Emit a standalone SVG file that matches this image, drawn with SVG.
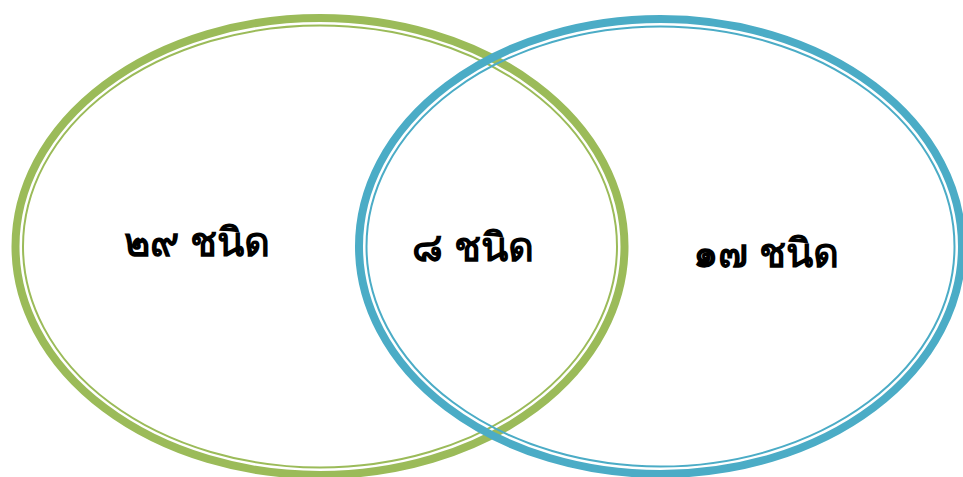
<svg xmlns="http://www.w3.org/2000/svg" width="963" height="477" viewBox="0 0 963 477">
<style>
.g{stroke:#9BBB59;fill:none}
.b{stroke:#4BACC6;fill:none}
.thick{stroke-width:8}
.thin{stroke-width:2}
.t{font-family:"Noto Sans","DejaVu Sans",sans-serif;font-weight:bold;font-size:40px;fill:#000;text-anchor:middle}
</style>
<rect width="963" height="477" fill="#fff"/>
<g id="green">
<ellipse class="g thick" cx="320" cy="246.5" rx="304.5" ry="228.5"/>
<ellipse class="g thin" cx="320" cy="246.5" rx="297" ry="221"/>
</g>
<g id="blue">
<ellipse class="b thick" cx="660.5" cy="246.5" rx="301.5" ry="227.5"/>
<ellipse class="b thin" cx="660.5" cy="246.5" rx="294" ry="220"/>
</g>
<g id="label-left"><text class="t" x="197" y="256">๒๙ ชนิด</text></g>
<g id="label-middle"><text class="t" x="473" y="261" font-size="38">๘ ชนิด</text></g>
<g id="label-right"><text class="t" x="766" y="267">๑๗ ชนิด</text></g>
</svg>
